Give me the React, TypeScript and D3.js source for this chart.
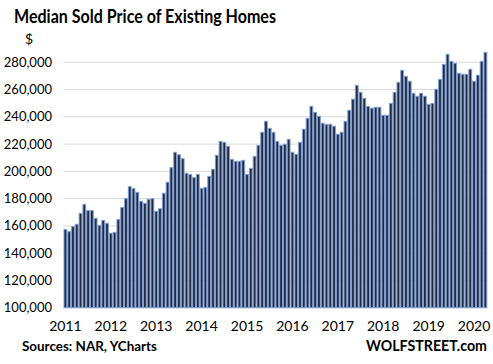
import React from "react";
import * as d3 from "d3";

const years = ["2011", "2012", "2013", "2014", "2015", "2016", "2017", "2018", "2019", "2020"];
const v2011 = [157500, 155800, 159500, 161200, 169200, 175800, 171200, 171200, 165600, 160400, 164100, 161900];
const v2012 = [154600, 155300, 164800, 173600, 180000, 188800, 187300, 184600, 178000, 176600, 179500, 180000];
const v2013 = [170700, 172600, 183900, 192000, 202700, 214000, 212200, 209300, 198600, 197800, 195400, 197800];
const v2014 = [187600, 188300, 196400, 201500, 211800, 222000, 221300, 218400, 208800, 207400, 207400, 208100];
const v2015 = [197800, 202200, 211000, 219100, 228600, 236700, 231600, 228600, 222000, 219100, 219900, 223500];
const v2016 = [214000, 212500, 221300, 230900, 238900, 247700, 243300, 240400, 235300, 234500, 234500, 233100];
const v2017 = [227200, 228700, 236700, 244800, 252900, 263100, 258000, 253600, 247700, 246300, 247000, 247000];
const v2018 = [241100, 241100, 249900, 258000, 265300, 274100, 269700, 266100, 257300, 255100, 257300, 255100];
const v2019 = [249200, 249900, 260200, 267500, 278500, 285900, 280700, 279300, 271900, 271200, 271200, 274900];
const v2020 = [266100, 270500, 280700, 287300];
const yTicks = [100000, 120000, 140000, 160000, 180000, 200000, 220000, 240000, 260000, 280000];

const yearly = [v2011, v2012, v2013, v2014, v2015, v2016, v2017, v2018, v2019, v2020];
const data = yearly.flatMap((arr, yi) => arr.map((v, m) => ({ key: `${years[yi]}-${m + 1}`, year: years[yi], month: m, value: v })));

const W = 493;
const H = 364;
const left = 63.5;
const right = 487.3;
const top = 62.3;
const bottom = 307.7;

export default function App() {
  const x = d3.scaleBand<string>().domain(data.map((d) => d.key)).range([left, right]).padding(0);
  const y = d3.scaleLinear().domain([100000, 280000]).range([bottom, top]);
  const fmt = d3.format(",");
  const font = "Lato, 'Open Sans', sans-serif";
  return (
    <svg width={W} height={H} style={{ position: "absolute", left: 0, top: 0, background: "#fff" }}>
      <text x={14} y={23} fontFamily={font} fontWeight="bold" fontSize={19} fill="#000" textLength={262} lengthAdjust="spacingAndGlyphs">
        Median Sold Price of Existing Homes
      </text>
      <text x={25} y={44} fontFamily={font} fontSize={14} fill="#000">$</text>
      {yTicks.map((t) => (
        <g key={t}>
          <line x1={left} x2={right} y1={y(t)} y2={y(t)} stroke={t === 100000 ? "#BFBFBF" : "#D9D9D9"} strokeWidth={1} />
          <text x={52} y={y(t)} dy="0.35em" textAnchor="end" fontFamily={font} fontSize={13} fill="#000">
            {fmt(t)}
          </text>
        </g>
      ))}
      {data.map((d) => (
        <rect
          key={d.key}
          x={x(d.key)! + 0.5}
          y={y(d.value)}
          width={x.bandwidth() - 1}
          height={bottom - y(d.value)}
          fill="#222B3B"
          stroke="#809FD8"
          strokeWidth={1}
        />
      ))}
      {data.filter((d) => d.month === 0).map((d) => (
        <text key={d.year} x={x(d.key)! + x.bandwidth() / 2} y={331} textAnchor="middle" fontFamily={font} fontSize={14} fill="#000">
          {d.year}
        </text>
      ))}
      <text x={22} y={351} fontFamily={font} fontWeight="bold" fontSize={14} fill="#000" textLength={135} lengthAdjust="spacingAndGlyphs">
        Sources: NAR, YCharts
      </text>
      <text x={487} y={351} textAnchor="end" fontFamily={font} fontWeight="bold" fontSize={15} fill="#000" textLength={121} lengthAdjust="spacingAndGlyphs">
        WOLFSTREET.com
      </text>
    </svg>
  );
}
